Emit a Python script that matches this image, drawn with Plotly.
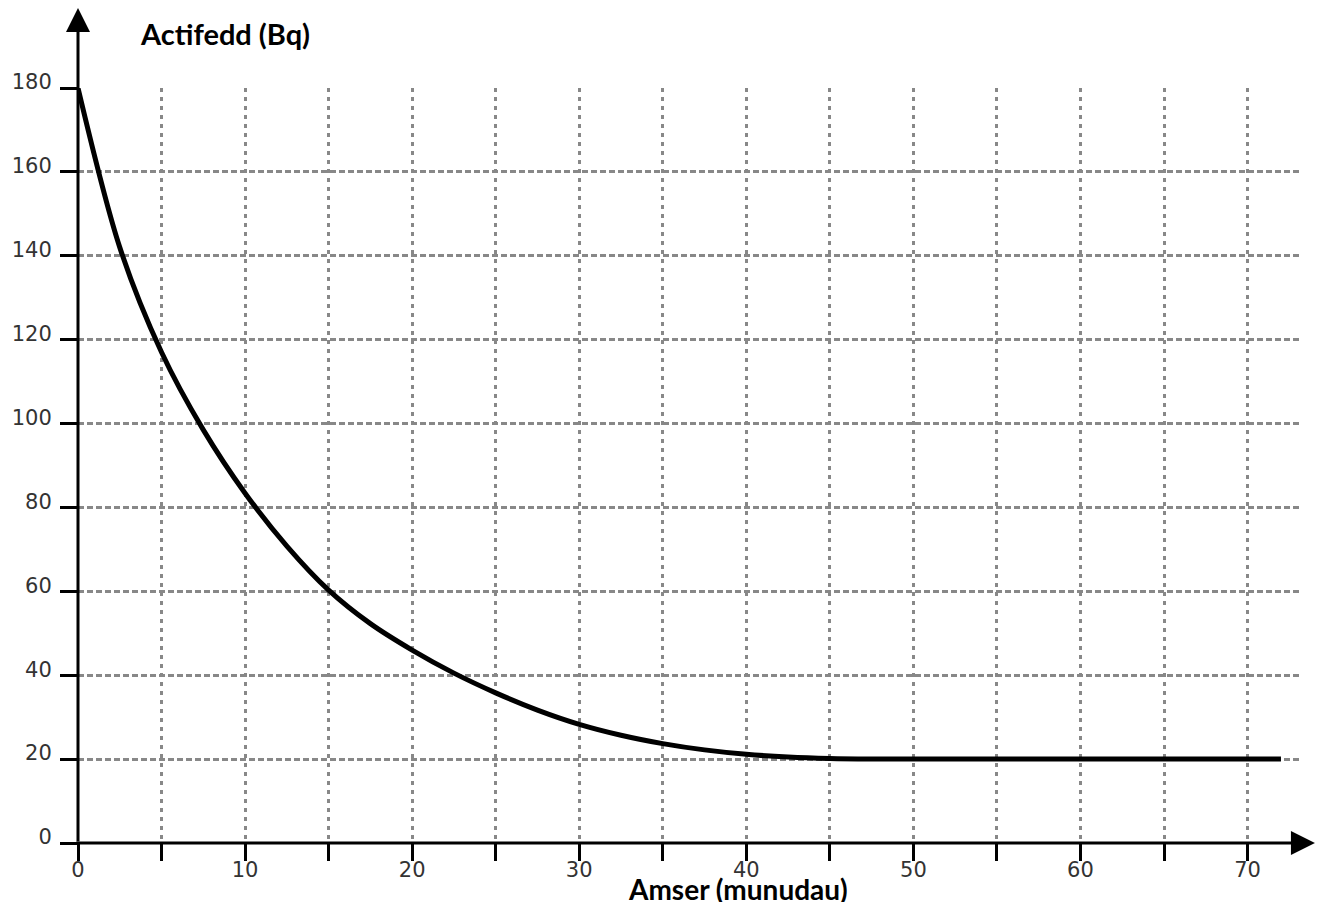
import plotly.graph_objects as go

# Data
time_min = [0, 2.5, 5, 7.5, 10, 12.5, 15, 17.5, 20, 22.5, 25, 27.5, 30,
            32.5, 35, 37.5, 40, 42.5, 45, 47.5, 50, 55, 60, 65, 72]
activity_bq = [180, 142, 117, 98.5, 83.4, 70.8, 60.3, 52.3, 46, 40.5, 35.8, 31.7, 28.3,
               25.7, 23.7, 22.2, 21.15, 20.5, 20.15, 20.03, 20, 20, 20, 20, 20]

x_tickvals = [0, 5, 10, 15, 20, 25, 30, 35, 40, 45, 50, 55, 60, 65, 70]
x_ticktext = ["0", "", "10", "", "20", "", "30", "", "40", "", "50", "", "60", "", "70"]
y_tickvals = [0, 20, 40, 60, 80, 100, 120, 140, 160, 180]
y_ticktext = ["0", "20", "40", "60", "80", "100", "120", "140", "160", "180"]

x_title = "Amser (munudau)"
y_title = "Actifedd (Bq)"

fig = go.Figure()
fig.add_trace(go.Scatter(
    x=time_min, y=activity_bq, mode="lines",
    line=dict(color="black", width=5, shape="spline", smoothing=0.9),
    hoverinfo="skip", showlegend=False,
))

tickfont = dict(family="DejaVu Sans", size=21, color="#333333")

fig.update_xaxes(
    range=[0, 73.2], tickmode="array", tickvals=x_tickvals, ticktext=x_ticktext,
    showgrid=True, gridcolor="#888888", gridwidth=2.5, griddash="4px,5px",
    showline=False, zeroline=False,
    ticks="outside", ticklen=17, tickwidth=3, tickcolor="black",
    tickfont=tickfont, ticklabelstandoff=-9, layer="above traces",
)
fig.update_yaxes(
    range=[0, 180], tickmode="array", tickvals=y_tickvals, ticktext=y_ticktext,
    showgrid=True, gridcolor="#888888", gridwidth=2.5, griddash="6px,3px",
    showline=False, zeroline=False,
    ticks="outside", ticklen=17, tickwidth=3, tickcolor="black",
    tickfont=tickfont, ticklabelshift=-6, ticklabelstandoff=4, layer="above traces",
)

# axis arrows
fig.add_annotation(x=0, y=1.106, xref="x", yref="paper", text="", showarrow=True,
                   axref="pixel", ayref="pixel", ax=0, ay=835,
                   arrowhead=2, arrowsize=1.6, arrowwidth=3, arrowcolor="black")
fig.add_annotation(x=1.0114, y=0, xref="paper", yref="y", text="", showarrow=True,
                   axref="pixel", ayref="pixel", ax=-1240, ay=0,
                   arrowhead=2, arrowsize=1.6, arrowwidth=3, arrowcolor="black")

fig.add_annotation(x=0.049, y=1.0728, xref="paper", yref="paper", text="<b>" + y_title + "</b>",
                   showarrow=False, xanchor="left", yanchor="middle",
                   font=dict(family="Lato", size=29, color="black"))
fig.add_annotation(x=0.540, y=-0.0609, xref="paper", yref="paper", text="<b>" + x_title + "</b>",
                   showarrow=False, xanchor="center", yanchor="middle",
                   height=26, borderpad=0, valign="middle",
                   font=dict(family="Lato", size=28, color="black"))

fig.update_layout(
    width=1320, height=905,
    margin=dict(l=75, r=19, t=88, b=62),
    paper_bgcolor="white", plot_bgcolor="white",
)

fig.write_html("out.html", config={"displayModeBar": False},
               post_script="document.body.style.margin='0';document.body.style.overflow='hidden';")
